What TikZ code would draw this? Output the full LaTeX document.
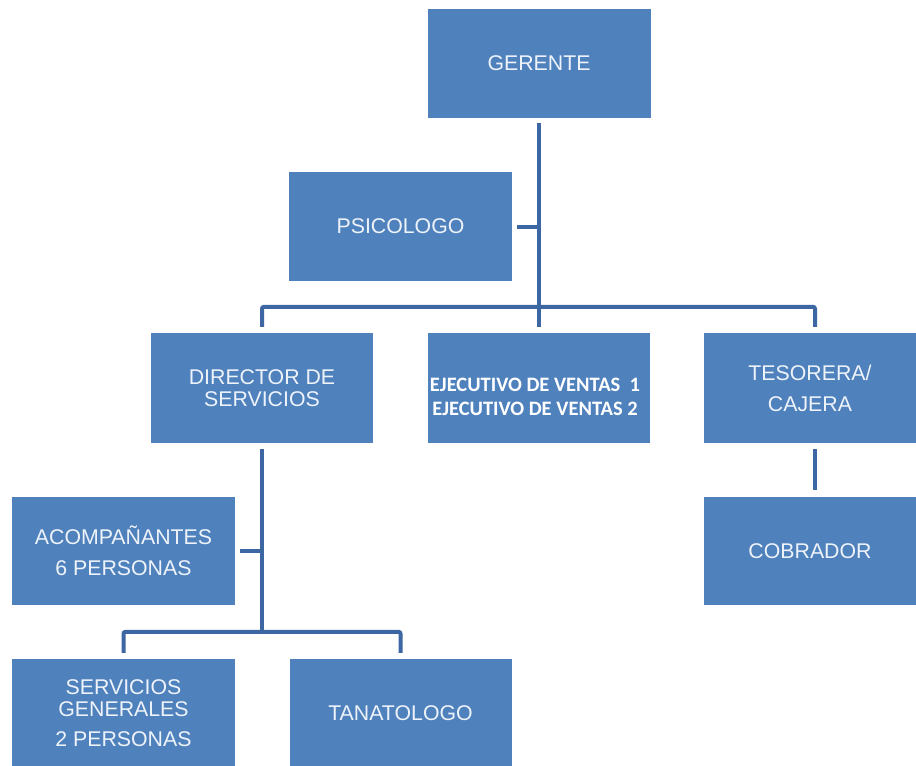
\documentclass[tikz,border=0pt]{standalone}
\usepackage{fontspec}
\setmainfont{Liberation Sans}
\newfontfamily\calib{Carlito}
\definecolor{boxfill}{HTML}{4F81BD}
\definecolor{linkcol}{HTML}{3C67A3}
\definecolor{boxtext}{HTML}{EEF3FA}
\begin{document}
\begin{tikzpicture}[x=1pt,y=-1pt,
  orgbox/.style={draw=none,fill=boxfill,inner sep=0pt,align=center,
    text=boxtext,font=\fontsize{21.3}{22}\selectfont},
  conn/.style={draw=linkcol,line width=4pt,rounded corners=2pt}]
\useasboundingbox (0,0) rectangle (916,766);
% boxes
\node[orgbox,minimum width=223pt,minimum height=109pt] (ger) at (539,63.5) {GERENTE};
\node[orgbox,minimum width=223pt,minimum height=109pt] (psi) at (400.5,226.5) {PSICOLOGO};
\node[orgbox,minimum width=222pt,minimum height=110pt] (dir) at (262,388) {DIRECTOR DE\\SERVICIOS};
\node[orgbox,minimum width=222pt,minimum height=110pt,
  font=\calib\bfseries\fontsize{20.5}{24}\selectfont,text=white] (eje) at (539,388)
  {\mbox{}\\[8pt]\hspace*{-8pt}EJECUTIVO DE VENTAS \ 1\\\hspace*{-8pt}EJECUTIVO DE VENTAS 2};
\node[orgbox,minimum width=212pt,minimum height=110pt,
  font=\fontsize{21.3}{31}\selectfont] (tes) at (810,388) {TESORERA/\\CAJERA};
\node[orgbox,minimum width=223pt,minimum height=108pt,
  font=\fontsize{21.3}{31}\selectfont] (acom) at (123.5,551) {ACOMPAÑANTES\\6 PERSONAS};
\node[orgbox,minimum width=212pt,minimum height=108pt] (cob) at (810,551) {COBRADOR};
\node[orgbox,minimum width=223pt,minimum height=108pt] (sg) at (123.5,713)
  {SERVICIOS\\GENERALES\\[8pt]2 PERSONAS};
\node[orgbox,minimum width=222pt,minimum height=108pt] (tan) at (400.5,713) {TANATOLOGO};
% upper tree
\draw[conn] ([yshift=-5pt]ger.south) -- ([yshift=6pt]eje.north);
\draw[conn] ([xshift=5pt]psi.east) -- (psi.east -| ger.south);
\draw[conn] ([yshift=6pt]dir.north) -- ++(0,-20) -| ([xshift=5pt,yshift=6pt]tes.north);
\draw[conn] ([xshift=5pt,yshift=-6pt]tes.south) -- ([xshift=5pt,yshift=7pt]cob.north);
% lower tree
\draw[conn] ([yshift=-6pt]dir.south) -- ([yshift=27pt]dir.south |- sg.north);
\draw[conn] ([xshift=5pt]acom.east) -- (acom.east -| dir.south);
\draw[conn] ([yshift=6pt]sg.north) -- ++(0,-21) -| ([yshift=6pt]tan.north);
\end{tikzpicture}
\end{document}
